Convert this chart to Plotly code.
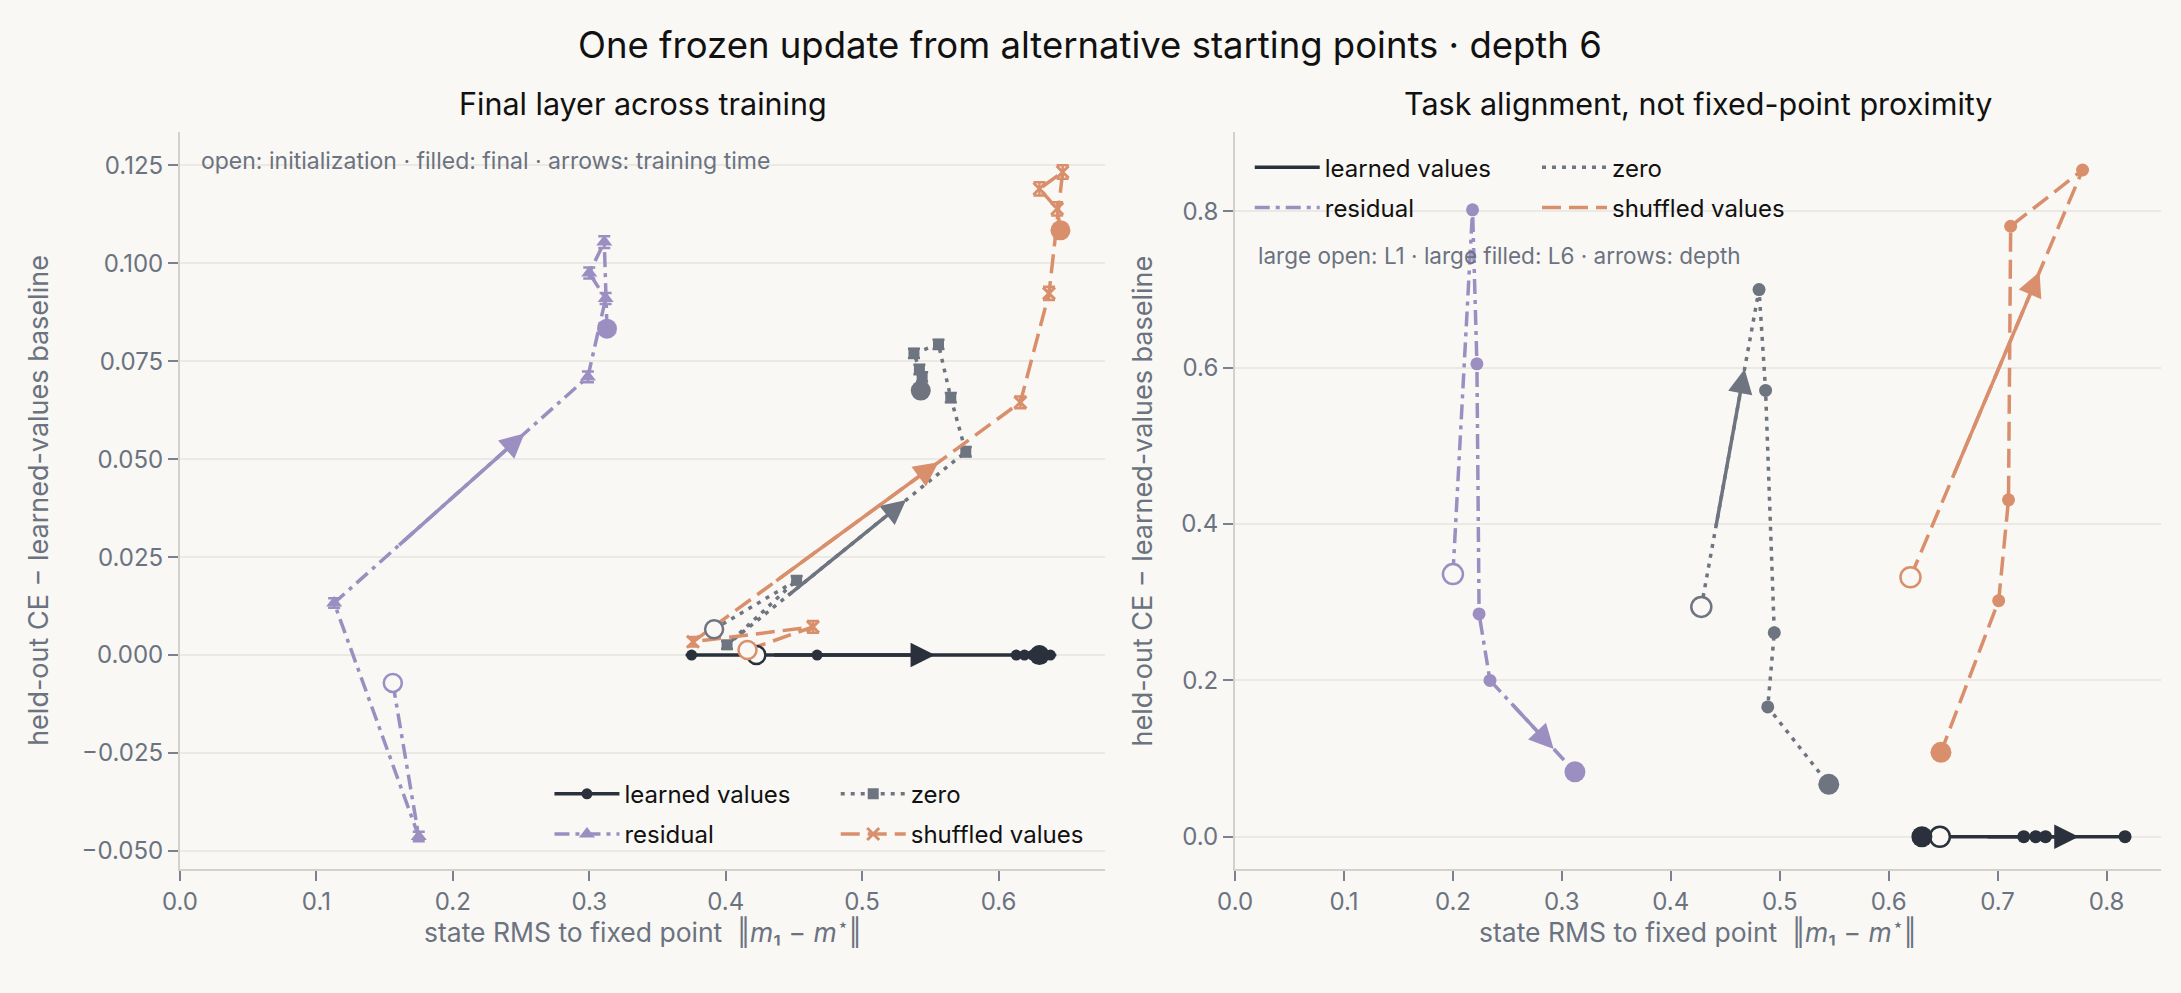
import plotly.graph_objects as go

# ---------------- data ----------------
SERIES = ["learned values", "residual", "zero", "shuffled values"]

# Left panel: final layer across training (first = initialization, last = final)
L_learned_x = [0.4225, 0.467, 0.375, 0.613, 0.619, 0.625, 0.638, 0.634, 0.630]
L_learned_y = [0.0, 0.0, 0.0, 0.0, 0.0, 0.0, 0.0, 0.0, 0.0]
L_learned_e = [0.0, 0.0, 0.0, 0.0, 0.0, 0.0, 0.0, 0.0, 0.0]

L_resid_x = [0.156, 0.175, 0.113, 0.299, 0.312, 0.300, 0.311, 0.313]
L_resid_y = [-0.0071, -0.0463, 0.0133, 0.0710, 0.0910, 0.0975, 0.1054, 0.0833]
L_resid_e = [0.0012, 0.0012, 0.0012, 0.0014, 0.0014, 0.0014, 0.0015, 0.0014]

L_zero_x = [0.3915, 0.452, 0.401, 0.576, 0.565, 0.556, 0.538, 0.542, 0.544, 0.543]
L_zero_y = [0.0066, 0.0191, 0.0026, 0.0519, 0.0657, 0.0793, 0.0770, 0.0729, 0.0710, 0.0675]
L_zero_e = [0.0010, 0.0010, 0.0010, 0.0012, 0.0012, 0.0012, 0.0012, 0.0012, 0.0012, 0.0012]

L_shuf_x = [0.416, 0.464, 0.376, 0.616, 0.637, 0.647, 0.630, 0.643, 0.6454]
L_shuf_y = [0.0013, 0.0072, 0.0034, 0.0645, 0.0923, 0.1233, 0.1190, 0.1139, 0.1084]
L_shuf_e = [0.0012, 0.0015, 0.0012, 0.0015, 0.0017, 0.0017, 0.0017, 0.0017, 0.0017]

L_arrow_seg = [2, 2, 2, 2]

# Right panel: layers L1..L6
R_learned_x = [0.647, 0.817, 0.744, 0.735, 0.724, 0.6305]
R_learned_y = [0.0, 0.0, 0.0, 0.0, 0.0, 0.0]
R_resid_x = [0.200, 0.218, 0.222, 0.224, 0.234, 0.312]
R_resid_y = [0.336, 0.802, 0.605, 0.285, 0.200, 0.083]
R_zero_x = [0.428, 0.481, 0.487, 0.495, 0.489, 0.545]
R_zero_y = [0.294, 0.700, 0.571, 0.261, 0.166, 0.067]
R_shuf_x = [0.620, 0.778, 0.712, 0.710, 0.701, 0.648]
R_shuf_y = [0.332, 0.853, 0.781, 0.431, 0.302, 0.108]

R_arrow_seg = [0, 4, 0, 0]

L_yticks = [-0.05, -0.025, 0.0, 0.025, 0.05, 0.075, 0.1, 0.125]

# ---------------- styles ----------------
BG = "#f9f8f4"
COLORS = ["#2a313c", "#9b8fc2", "#6e7480", "#d98f6c"]
DASHES = ["solid", "15px,6px,4px,6px", "4px,6px", "19px,8px"]
L_SYMBOLS = ["circle", "triangle-up", "square", "x-thin"]
L_SIZES = [11, 14, 11, 12]
FONT = "Inter, Noto Sans, sans-serif"
TICK_C = "#6b7280"

fig = go.Figure()

left = [(L_learned_x, L_learned_y, L_learned_e), (L_resid_x, L_resid_y, L_resid_e),
        (L_zero_x, L_zero_y, L_zero_e), (L_shuf_x, L_shuf_y, L_shuf_e)]
right = [(R_learned_x, R_learned_y), (R_resid_x, R_resid_y),
         (R_zero_x, R_zero_y), (R_shuf_x, R_shuf_y)]

legend_for = ["legend", "legend", "legend2", "legend2"]
legend_for_r = ["legend3", "legend3", "legend4", "legend4"]

for i, (xs, ys, es) in enumerate(left):
    c = COLORS[i]
    sym = L_SYMBOLS[i]
    mk = dict(symbol=sym, size=L_SIZES[i], color=c)
    if sym == "x-thin":
        mk["line"] = dict(width=3, color=c)
    else:
        mk["line"] = dict(width=0)
    fig.add_trace(go.Scatter(
        x=xs, y=ys, mode="lines+markers", name=SERIES[i],
        line=dict(color=c, width=3.5, dash=DASHES[i]),
        marker=mk,
        error_y=dict(type="data", array=es, color=c, thickness=2.5, width=6),
        xaxis="x", yaxis="y", legend=legend_for[i], legendgroup="L" + str(i),
        showlegend=True))

for i, (xs, ys, es) in enumerate(left):
    c = COLORS[i]
    fig.add_trace(go.Scatter(x=[xs[0]], y=[ys[0]], mode="markers",
                             marker=dict(symbol="circle", size=18, color=BG, line=dict(width=2.5, color=c)),
                             xaxis="x", yaxis="y", showlegend=False, hoverinfo="skip"))
    fig.add_trace(go.Scatter(x=[xs[-1]], y=[ys[-1]], mode="markers",
                             marker=dict(symbol="circle", size=20, color=c, line=dict(width=0)),
                             xaxis="x", yaxis="y", showlegend=False, hoverinfo="skip"))

for i, (xs, ys) in enumerate(right):
    c = COLORS[i]
    fig.add_trace(go.Scatter(
        x=xs, y=ys, mode="lines+markers", name=SERIES[i],
        line=dict(color=c, width=3.5, dash=DASHES[i]),
        marker=dict(symbol="circle", size=13, color=c, line=dict(width=0)),
        xaxis="x2", yaxis="y2", showlegend=False))
    fig.add_trace(go.Scatter(x=[xs[0]], y=[ys[0]], mode="markers",
                             marker=dict(symbol="circle", size=20, color=BG, line=dict(width=2.5, color=c)),
                             xaxis="x2", yaxis="y2", showlegend=False, hoverinfo="skip"))
    fig.add_trace(go.Scatter(x=[xs[-1]], y=[ys[-1]], mode="markers",
                             marker=dict(symbol="circle", size=21, color=c, line=dict(width=0)),
                             xaxis="x2", yaxis="y2", showlegend=False, hoverinfo="skip"))
    # legend-only line sample
    fig.add_trace(go.Scatter(x=[None], y=[None], mode="lines", name=SERIES[i],
                             line=dict(color=c, width=3.5, dash=DASHES[i]),
                             xaxis="x2", yaxis="y2", legend=legend_for_r[i],
                             legendgroup="R" + str(i), showlegend=True))

annotations = []


def add_arrow(xs, ys, k, c, xr, yr):
    x0, y0, x1, y1 = xs[k], ys[k], xs[k + 1], ys[k + 1]
    tx, ty = x0 + 0.25 * (x1 - x0), y0 + 0.25 * (y1 - y0)
    hx, hy = x0 + 0.75 * (x1 - x0), y0 + 0.75 * (y1 - y0)
    annotations.append(dict(x=hx, y=hy, ax=tx, ay=ty, xref=xr, yref=yr, axref=xr, ayref=yr,
                            showarrow=True, arrowhead=2, arrowsize=1.4, arrowwidth=3.5,
                            arrowcolor=c, text="", standoff=0, startstandoff=0))


for i, (xs, ys, es) in enumerate(left):
    add_arrow(xs, ys, L_arrow_seg[i], COLORS[i], "x", "y")
for i, (xs, ys) in enumerate(right):
    add_arrow(xs, ys, R_arrow_seg[i], COLORS[i], "x2", "y2")

# titles & texts
annotations += [
    dict(text="One frozen update from alternative starting points · depth 6", xref="paper", yref="paper",
         x=0.4596, y=1.1187, xanchor="center", yanchor="middle", showarrow=False,
         font=dict(size=36.5, color="#111111", family=FONT)),
    dict(text="Final layer across training", xref="paper", yref="paper", x=0.2335, y=1.038,
         xanchor="center", yanchor="middle", showarrow=False, font=dict(size=30.5, color="#111111", family=FONT)),
    dict(text="Task alignment, not fixed-point proximity", xref="paper", yref="paper", x=0.7663, y=1.038,
         xanchor="center", yanchor="middle", showarrow=False, font=dict(size=30.5, color="#111111", family=FONT)),
    dict(text="open: initialization · filled: final · arrows: training time", xref="paper", yref="paper",
         x=0.0096, y=0.9607, xanchor="left", yanchor="middle", showarrow=False,
         font=dict(size=23, color="#6b7280", family=FONT)),
    dict(text="large open: L1 · large filled: L6 · arrows: depth", xref="paper", yref="paper",
         x=0.5432, y=0.8318, xanchor="left", yanchor="middle", showarrow=False,
         font=dict(size=22.5, color="#6b7280", family=FONT)),
]
xt = "state RMS to fixed point  ‖<i>m</i>₁ − <i>m</i><sup>⋆</sup>‖"
yt = "held-out CE − learned-values baseline"
for xc in (0.2335, 0.7663):
    annotations.append(dict(text=xt, xref="paper", yref="paper", x=xc, y=-0.084, xanchor="center",
                            yanchor="middle", showarrow=False, font=dict(size=26.5, color="#6b7280", family=FONT)))
for xc in (-0.0715, 0.4861):
    annotations.append(dict(text=yt, xref="paper", yref="paper", x=xc, y=0.5, xanchor="center",
                            yanchor="middle", textangle=-90, showarrow=False,
                            font=dict(size=27, color="#6b7280", family=FONT)))

ax_common = dict(showline=True, linecolor="#d3d1cb", linewidth=2, ticks="outside", ticklen=10,
                 tickwidth=1.5, tickcolor="#7b8190", zeroline=False,
                 tickfont=dict(size=24, color=TICK_C, family=FONT))

shapes = [
    dict(type="line", xref="x domain", yref="y", x0=0, x1=1, y0=0, y1=0,
         line=dict(color="#5b616c", width=1.5, dash="2px,3px"), layer="below"),
    dict(type="line", xref="x2 domain", yref="y2", x0=0, x1=1, y0=0, y1=0,
         line=dict(color="#5b616c", width=1.5, dash="2px,3px"), layer="below"),
]

leg_common = dict(orientation="v", bgcolor="rgba(0,0,0,0)", borderwidth=0,
                  font=dict(size=24, color="#111111", family=FONT),
                  traceorder="grouped", tracegroupgap=6, xanchor="left", yanchor="top",
                  itemwidth=65)

fig.update_layout(
    width=2181, height=993,
    margin=dict(l=180, r=20, t=132, b=124),
    paper_bgcolor=BG, plot_bgcolor=BG,
    font=dict(family=FONT),
    xaxis=dict(domain=[0, 0.4669], range=[0, 0.678], dtick=0.1, tickformat=".1f", showgrid=False,
               anchor="y", **ax_common),
    yaxis=dict(range=[-0.0546, 0.1335], tickvals=L_yticks,
               tickformat=".3f", showgrid=True, gridcolor="#ebe9e4", gridwidth=1.5, anchor="x", **ax_common),
    xaxis2=dict(domain=[0.5326, 1], range=[0, 0.850], dtick=0.1, tickformat=".1f", showgrid=False,
                anchor="y2", **ax_common),
    yaxis2=dict(range=[-0.0413, 0.9016], dtick=0.2, tickformat=".1f", showgrid=True, gridcolor="#ebe9e4",
                gridwidth=1.5, anchor="x2", **ax_common),
    legend=dict(x=0.1865, y=0.132, **leg_common),
    legend2=dict(x=0.331, y=0.132, **leg_common),
    legend3=dict(x=0.540, y=0.982, **leg_common),
    legend4=dict(x=0.685, y=0.982, **leg_common),
    annotations=annotations,
    shapes=shapes,
    showlegend=True,
)

fig.write_html("out.html", config={"displayModeBar": False},
               post_script="document.body.style.margin='0';document.body.style.padding='0';"
                           "document.body.style.background='#f9f8f4';"
                           "document.documentElement.style.background='#f9f8f4';")
